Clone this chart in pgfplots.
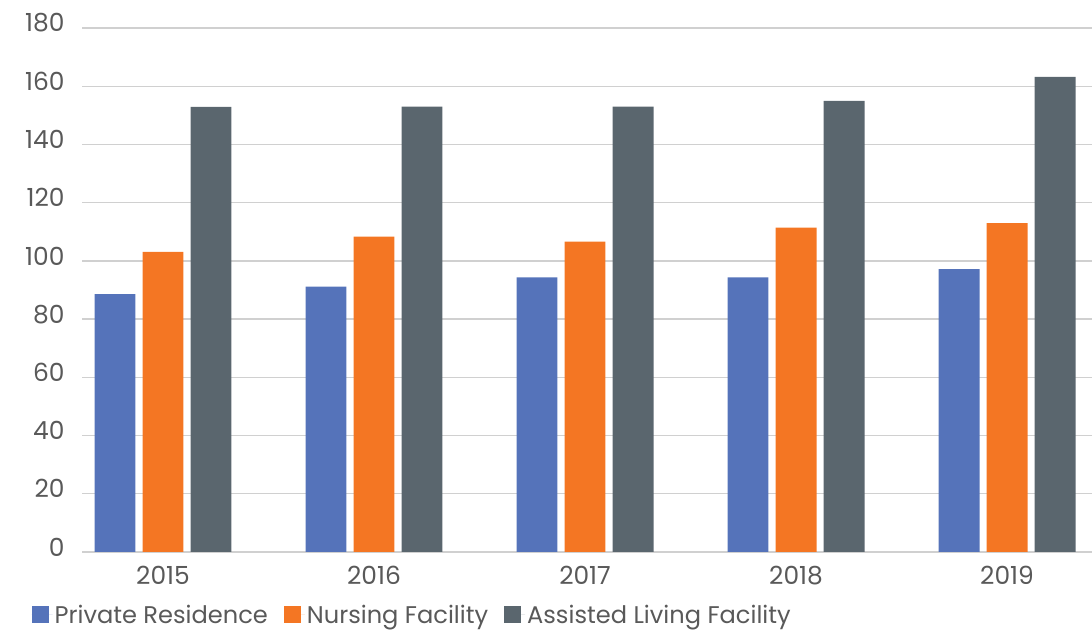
\documentclass[border=0pt]{standalone}
\usepackage{pgfplots}
\pgfplotsset{compat=1.18}
\usepackage{fontspec}
\setmainfont{Poppins}
\definecolor{cblue}{HTML}{5573BA}
\definecolor{corange}{HTML}{F47623}
\definecolor{cgray}{HTML}{5A666E}
\definecolor{textgray}{HTML}{595959}
\definecolor{gridgray}{HTML}{D0D0D0}
\begin{document}
\begin{tikzpicture}
\useasboundingbox (0,0) rectangle (1092bp,631bp);
\begin{axis}[
  at={(82bp,79bp)}, anchor=south west,
  scale only axis, width=1010bp, height=524bp,
  xmin=-0.384, xmax=4.403, ymin=0, ymax=180,
  ytick={0,20,...,180},
  xtick={0,1,2,3,4},
  xticklabels={2015,2016,2017,2018,2019},
  axis line style={draw=none},
  major tick length=0pt,
  ymajorgrids,
  grid style={color=gridgray, line width=1.3bp},
  ybar, bar width=0.194,
  tick label style={font=\fontsize{25}{29}\selectfont, text=textgray},
  /pgf/number format/assume math mode=true,
  yticklabel style={anchor=east, xshift=-14bp, yshift=5bp},
  xticklabel style={anchor=north, yshift=-11bp},
  legend style={at={(-0.053,-0.12)}, anchor=west, draw=none, fill=none,
    legend columns=-1, font=\fontsize{24.2}{28}\selectfont, text=textgray,
    /tikz/every even column/.append style={column sep=14bp}},
  legend image code/.code={\path (0bp,0bp) -- (21bp,0bp);\fill[#1] (0bp,-8.5bp) rectangle (17bp,8.5bp);},
]
\addplot[fill=cblue, draw=none, bar shift=-0.2275] coordinates {(0,88.6) (1,91.2) (2,94.3) (3,94.3) (4,97.2)};
\addplot[fill=corange, draw=none, bar shift=0] coordinates {(0,103.1) (1,108.3) (2,106.6) (3,111.4) (4,113.0)};
\addplot[fill=cgray, draw=none, bar shift=0.2275] coordinates {(0,152.9) (1,153.0) (2,153.0) (3,155.0) (4,163.2)};
\legend{Private Residence, Nursing Facility, Assisted Living Facility}
\end{axis}
\end{tikzpicture}
\end{document}
